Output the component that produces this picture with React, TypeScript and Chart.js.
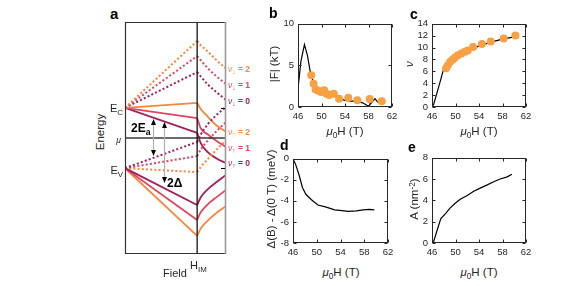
import React, { useEffect, useRef } from 'react';
import { Chart, registerables } from 'chart.js';
Chart.register(...registerables);

const FONT = '"Liberation Sans", Arial, sans-serif';
const AX = '#262626';
const ORANGE = '#F7853D';
const RED = '#DF4560';
const DARK = '#A1205A';
const MARKER = '#F7A044';

// ---------- Panel b : |F| vs field ----------
const B_LINE_X = [46, 46.5, 47.1, 47.6, 48.1, 48.6, 49.0, 49.5, 50.0, 50.5, 51.0, 51.5, 52.0, 53.0, 54.0, 55.0, 56.0, 57.0, 58.0, 59.1, 59.6];
const B_LINE_Y = [2.2, 5.5, 7.5, 6.2, 4.2, 3.0, 2.4, 2.1, 1.9, 1.85, 1.7, 1.5, 1.4, 1.0, 0.8, 0.7, 0.7, 0.5, 0.1, 1.0, 0.55];
const B_PTS_X = [48.25, 48.65, 49.0, 49.5, 49.9, 50.45, 50.9, 51.3, 52.1, 53.0, 54.55, 56.1, 58.2, 60.25];
const B_PTS_Y = [3.8, 2.8, 2.1, 1.95, 1.8, 2.0, 1.55, 1.45, 1.6, 1.0, 1.1, 0.8, 0.95, 0.7];

// ---------- Panel c : filling factor nu ----------
const C_LINE_X = [46.0, 46.3, 46.8, 47.4, 47.9, 48.4, 49.0, 49.6, 50.2, 51.0, 52.0, 53.0, 54.5, 56.0, 58.0, 60.0];
const C_LINE_Y = [0, 0.5, 2.2, 4.3, 6.1, 6.6, 7.4, 8.0, 8.5, 9.0, 9.5, 9.9, 10.4, 10.9, 11.4, 11.8];
const C_PTS_X = [48.4, 48.7, 49.1, 49.5, 49.9, 50.4, 51.0, 51.6, 52.1, 53.0, 54.5, 56.0, 58.2, 60.2];
const C_PTS_Y = [6.5, 7.0, 7.6, 7.95, 8.3, 8.7, 9.0, 9.3, 9.5, 10.1, 10.6, 11.0, 11.5, 12.0];

// ---------- Panel d : gap change ----------
const D_X = [46.0, 46.45, 47.0, 47.6, 48.2, 49.1, 50.2, 51.6, 53.0, 53.9, 55.3, 56.7, 57.8, 58.9, 59.7];
const D_Y = [0, -0.56, -1.5, -2.75, -3.4, -3.9, -4.4, -4.6, -4.85, -4.9, -5.0, -4.95, -4.85, -4.8, -4.85];

// ---------- Panel e : area ----------
const E_X = [46.2, 46.85, 47.5, 48.3, 49.1, 50.0, 50.8, 52.0, 53.1, 54.2, 55.4, 56.5, 57.6, 58.8, 59.6];
const E_Y = [0, 1.15, 2.3, 2.75, 3.3, 3.75, 4.1, 4.45, 4.85, 5.15, 5.45, 5.75, 6.0, 6.2, 6.45];

const X_MIN = 46, X_MAX = 62, X_STEP = 4;

// ---------- Panel a : schematic (arbitrary units) ----------
const A_FIELD_MAX = 1.4;
const A_E_MAX = 10;
const A_HIM = 1;
const A_EC = 6.3;
const A_EV = 3.7;
const A_MU = 5.0;
const A_RIGHT_X = [1, 1.05, 1.15, 1.27, 1.4];
// levels starting at E_C
const A_EC_SOLID_ORANGE = [6.51, 6.25, 5.91, 5.54, 5.27];
const A_EC_SOLID_RED = [5.86, 5.42, 5.15, 4.87, 4.61];
const A_EC_SOLID_DARK = [5.22, 4.78, 4.38, 4.12, 3.92];
const A_EC_DOT_ORANGE = [9.18, 9.0, 8.72, 8.35, 8.0];
const A_EC_DOT_RED = [8.53, 8.35, 8.0, 7.65, 7.33];
const A_EC_DOT_DARK = [7.84, 7.65, 7.3, 6.97, 6.64];
// levels starting at E_V
const A_EV_DOT_DARK = [4.83, 5.15, 5.6, 6.0, 6.34];
const A_EV_DOT_RED = [4.22, 4.5, 4.9, 5.3, 5.69];
const A_EV_DOT_ORANGE = [3.53, 3.75, 4.1, 4.5, 4.91];
const A_EV_SOLID_DARK = [2.11, 2.45, 2.8, 3.1, 3.41];
const A_EV_SOLID_RED = [1.47, 1.8, 2.15, 2.45, 2.76];
const A_EV_SOLID_ORANGE = [0.78, 1.1, 1.45, 1.78, 2.07];
// arrows (field, energy)
const ARROW_EA = { x: 0.39, top: 5.82, bottom: 4.22 };
const ARROW_DELTA = { x: 0.54, top: 5.69, bottom: 3.06 };

const zip = (xs: number[], ys: number[]) => xs.map((x, i) => ({ x, y: ys[i] }));

const framePlugin = {
  id: 'frame',
  afterDraw(chart: any) {
    const { ctx, chartArea: a, scales } = chart;
    ctx.save();
    ctx.strokeStyle = AX;
    ctx.lineWidth = 1;
    const l = Math.round(a.left) + 0.5, t = Math.round(a.top) + 0.5;
    const r = Math.round(a.right) - 0.5, b = Math.round(a.bottom) - 0.5;
    ctx.strokeRect(l, t, r - l, b - t);
    const L = 3;
    ctx.beginPath();
    scales.x.ticks.forEach((tk: any) => {
      const p = Math.round(scales.x.getPixelForValue(tk.value)) + 0.5;
      ctx.moveTo(p, b); ctx.lineTo(p, b - L);
      ctx.moveTo(p, t); ctx.lineTo(p, t + L);
    });
    scales.y.ticks.forEach((tk: any) => {
      const p = Math.round(scales.y.getPixelForValue(tk.value)) + 0.5;
      ctx.moveTo(l, p); ctx.lineTo(l + L, p);
      ctx.moveTo(r, p); ctx.lineTo(r - L, p);
    });
    ctx.stroke();
    ctx.restore();
  },
};

const YW = 30, XH = 22, PT = 8, PR = 10;

function xyConfig(datasets: any[], yMin: number, yMax: number, yStep: number): any {
  const tickFont = { family: FONT, size: 9.5 };
  return {
    type: 'scatter',
    data: { datasets },
    options: {
      animation: false,
      responsive: true,
      maintainAspectRatio: false,
      devicePixelRatio: 1,
      events: [],
      layout: { padding: { left: 0, top: PT, right: PR, bottom: 0 } },
      plugins: { legend: { display: false }, tooltip: { enabled: false } },
      scales: {
        x: {
          type: 'linear', min: X_MIN, max: X_MAX,
          grid: { display: false, drawTicks: false },
          border: { display: false },
          ticks: { stepSize: X_STEP, color: AX, font: tickFont, padding: 4, maxRotation: 0, autoSkip: false },
          afterFit: (s: any) => { s.height = XH; },
        },
        y: {
          type: 'linear', min: yMin, max: yMax,
          grid: { display: false, drawTicks: false },
          border: { display: false },
          ticks: { stepSize: yStep, color: AX, font: tickFont, padding: 4, autoSkip: false },
          afterFit: (s: any) => { s.width = YW; },
        },
      },
    },
    plugins: [framePlugin],
  };
}

const blackLine = (xs: number[], ys: number[]) => ({
  data: zip(xs, ys), showLine: true, borderColor: '#000', borderWidth: 1.2,
  pointRadius: 0, tension: 0, fill: false,
});
const markers = (xs: number[], ys: number[]) => ({
  data: zip(xs, ys), showLine: false, pointRadius: 4, pointBackgroundColor: MARKER,
  pointBorderWidth: 0, backgroundColor: MARKER, borderColor: MARKER,
});

function schematicConfig(): any {
  const levels: [number, number[], string, boolean][] = [
    [A_EC, A_EC_DOT_ORANGE, ORANGE, true],
    [A_EC, A_EC_DOT_RED, RED, true],
    [A_EC, A_EC_DOT_DARK, DARK, true],
    [A_EV, A_EV_DOT_DARK, DARK, true],
    [A_EV, A_EV_DOT_RED, RED, true],
    [A_EV, A_EV_DOT_ORANGE, ORANGE, true],
    [A_EC, A_EC_SOLID_ORANGE, ORANGE, false],
    [A_EC, A_EC_SOLID_RED, RED, false],
    [A_EC, A_EC_SOLID_DARK, DARK, false],
    [A_EV, A_EV_SOLID_DARK, DARK, false],
    [A_EV, A_EV_SOLID_RED, RED, false],
    [A_EV, A_EV_SOLID_ORANGE, ORANGE, false],
  ];
  const ds: any[] = [];
  ds.push({ data: [{ x: A_HIM, y: 0 }, { x: A_HIM, y: A_E_MAX }], showLine: true, borderColor: '#111', borderWidth: 1.3, pointRadius: 0 });
  ds.push({ data: [{ x: 0, y: A_MU }, { x: A_FIELD_MAX, y: A_MU }], showLine: true, borderColor: '#3a3a3a', borderWidth: 1.6, pointRadius: 0 });
  levels.forEach(([start, right, color, dotted]) => {
    const common = {
      showLine: true, borderColor: color, borderWidth: dotted ? 2 : 1.8, pointRadius: 0,
      borderDash: dotted ? [2, 2.2] : [], borderCapStyle: 'butt',
    };
    ds.push({ ...common, data: [{ x: 0, y: start }, { x: A_HIM, y: right[0] }], tension: 0 });
    ds.push({ ...common, data: zip(A_RIGHT_X, right), cubicInterpolationMode: 'monotone' });
  });
  const deco = {
    id: 'deco',
    afterDraw(chart: any) {
      const { ctx, chartArea: a, scales } = chart;
      const X = (v: number) => scales.x.getPixelForValue(v);
      const Y = (v: number) => scales.y.getPixelForValue(v);
      ctx.save();
      // frame
      ctx.lineWidth = 1.2;
      ctx.strokeStyle = '#333';
      ctx.beginPath();
      ctx.moveTo(a.right, a.top + 0.5); ctx.lineTo(a.left + 0.5, a.top + 0.5);
      ctx.lineTo(a.left + 0.5, a.bottom - 0.5); ctx.lineTo(a.right, a.bottom - 0.5);
      ctx.stroke();
      ctx.strokeStyle = '#9a9a9a';
      ctx.lineWidth = 1.6;
      ctx.beginPath();
      ctx.moveTo(a.right - 0.5, a.top); ctx.lineTo(a.right - 0.5, a.bottom);
      ctx.stroke();
      // small inward ticks at E_C / E_V on the right edge
      ctx.strokeStyle = '#000';
      ctx.lineWidth = 1;
      ctx.beginPath();
      [A_EC, A_EV].forEach((e) => {
        const p = Math.round(Y(e)) + 0.5;
        ctx.moveTo(a.right - 1, p); ctx.lineTo(a.right - 5, p);
      });
      ctx.stroke();
      // arrows
      [ARROW_EA, ARROW_DELTA].forEach((ar) => {
        const x = Math.round(X(ar.x)) + 0.5;
        const yt = Y(ar.top), yb = Y(ar.bottom);
        ctx.strokeStyle = '#b0b0b0';
        ctx.lineWidth = 1.2;
        ctx.beginPath(); ctx.moveTo(x, yt + 4); ctx.lineTo(x, yb - 4); ctx.stroke();
        ctx.fillStyle = '#000';
        ctx.beginPath(); ctx.moveTo(x, yt); ctx.lineTo(x - 2.5, yt + 6); ctx.lineTo(x + 2.5, yt + 6); ctx.closePath(); ctx.fill();
        ctx.beginPath(); ctx.moveTo(x, yb); ctx.lineTo(x - 2.5, yb - 6); ctx.lineTo(x + 2.5, yb - 6); ctx.closePath(); ctx.fill();
      });
      ctx.restore();
    },
  };
  return {
    type: 'scatter',
    data: { datasets: ds },
    options: {
      animation: false, responsive: true, maintainAspectRatio: false, devicePixelRatio: 1, events: [],
      layout: { padding: 5 },
      plugins: { legend: { display: false }, tooltip: { enabled: false } },
      scales: {
        x: { type: 'linear', min: 0, max: A_FIELD_MAX, display: false },
        y: { type: 'linear', min: 0, max: A_E_MAX, display: false },
      },
    },
    plugins: [deco],
  };
}

function ChartBox({ left, top, width, height, build }: any) {
  const ref = useRef<HTMLCanvasElement>(null);
  useEffect(() => {
    const ch = new Chart(ref.current as HTMLCanvasElement, build());
    return () => ch.destroy();
  }, []);
  return (
    <div style={{ position: 'absolute', left, top, width, height }}>
      <canvas ref={ref} />
    </div>
  );
}

function T({ x, y, anchor = 'l', rot = false, size = 11, bold = false, italic = false, color = AX, children }: any) {
  const tx = rot ? '-50%' : anchor === 'c' ? '-50%' : anchor === 'r' ? '-100%' : '0';
  return (
    <div
      style={{
        position: 'absolute', left: x, top: y, transform: `translate(${tx}, -50%)${rot ? ' rotate(-90deg)' : ''}`,
        fontFamily: FONT, fontSize: size, fontWeight: bold ? 'bold' : 'normal', fontStyle: italic ? 'italic' : 'normal',
        color, whiteSpace: 'nowrap', lineHeight: 1,
      }}
    >
      {children}
    </div>
  );
}

const sub = (s: string, extra: any = {}) => (
  <span style={{ fontSize: '0.72em', position: 'relative', top: '0.35em', ...extra }}>{s}</span>
);
const sup = (s: string) => (
  <span style={{ fontSize: '0.72em', position: 'relative', top: '-0.4em' }}>{s}</span>
);

const muH = (
  <span><i>μ</i>{sub('0')}H (T)</span>
);

function NuLabel({ y, arrow, n, color }: any) {
  return (
    <T x={228} y={y} size={8.5} color={color}>
      <i>ν</i>{sub(arrow, { fontSize: '0.8em' })}<b> = {n}</b>
    </T>
  );
}

export default function App() {
  return (
    <div style={{ position: 'fixed', left: 0, top: 0, width: 568, height: 286, background: '#fff', overflow: 'hidden' }}>
      <ChartBox left={120} top={17} width={111} height={242} build={schematicConfig} />
      <ChartBox left={298 - YW} top={22 - PT} width={94 + YW + PR} height={85 + PT + XH}
        build={() => xyConfig([markers(B_PTS_X, B_PTS_Y), blackLine(B_LINE_X, B_LINE_Y)], 0, 10, 5)} />
      <ChartBox left={432 - YW} top={22 - PT} width={94 + YW + PR} height={85 + PT + XH}
        build={() => xyConfig([markers(C_PTS_X, C_PTS_Y), blackLine(C_LINE_X, C_LINE_Y)], 0, 14, 2)} />
      <ChartBox left={293 - YW} top={157 - PT} width={95 + YW + PR} height={86 + PT + XH}
        build={() => xyConfig([blackLine(D_X, D_Y)], -8, 0, 2)} />
      <ChartBox left={432 - YW} top={156 - PT} width={94 + YW + PR} height={87 + PT + XH}
        build={() => xyConfig([blackLine(E_X, E_Y)], 0, 8, 2)} />

      {/* panel a texts */}
      <T x={110} y={13} size={15} bold color="#000">a</T>
      <T x={101} y={132} rot size={11.5}>Energy</T>
      <T x={123} y={108} anchor="r" size={11}>E{sub('C')}</T>
      <T x={121} y={140} anchor="r" size={8.5} italic>μ</T>
      <T x={123} y={170} anchor="r" size={11}>E{sub('V')}</T>
      <T x={131} y={128} size={12} bold color="#000">2E{sub('a')}</T>
      <T x={167} y={183} size={12} bold color="#000">2Δ</T>
      <T x={163} y={273} size={11}>Field</T>
      <T x={190} y={265} size={11}>H{sub('IM')}</T>
      <NuLabel y={69} arrow="↓" n={2} color={ORANGE} />
      <NuLabel y={85} arrow="↓" n={1} color={RED} />
      <NuLabel y={101} arrow="↓" n={0} color={DARK} />
      <NuLabel y={132} arrow="↑" n={2} color={ORANGE} />
      <NuLabel y={148} arrow="↑" n={1} color={RED} />
      <NuLabel y={163} arrow="↑" n={0} color={DARK} />

      {/* panel b */}
      <T x={269} y={13} size={14} bold color="#000">b</T>
      <T x={275} y={64} rot size={11.5}>|F| (kT)</T>
      <T x={345} y={132} anchor="c" size={11.5}>{muH}</T>
      {/* panel c */}
      <T x={410} y={14} size={14} bold color="#000">c</T>
      <T x={410} y={64} rot size={11.5} italic>ν</T>
      <T x={479} y={132} anchor="c" size={11.5}>{muH}</T>
      {/* panel d */}
      <T x={280} y={145} size={14} bold color="#000">d</T>
      <T x={272} y={199} rot size={11.5}>Δ(B) - Δ(0 T) (meV)</T>
      <T x={341} y={273} anchor="c" size={11.5}>{muH}</T>
      {/* panel e */}
      <T x={408} y={147} size={14} bold color="#000">e</T>
      <T x={415} y={199} rot size={11.5}>A (nm{sup('-2')})</T>
      <T x={479} y={273} anchor="c" size={11.5}>{muH}</T>
    </div>
  );
}
